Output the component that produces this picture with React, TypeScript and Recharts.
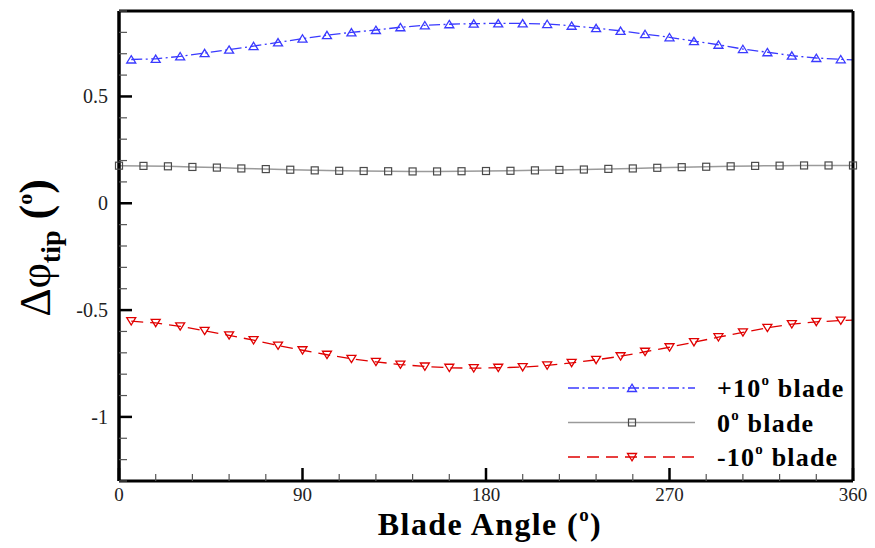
import React from "react";
import { LineChart, Line, XAxis, YAxis } from "recharts";

// blade angle stations (deg)
const zeroAngles = [
  0, 12, 24, 36, 48, 60, 72, 84, 96, 108, 120, 132, 144, 156, 168, 180,
  192, 204, 216, 228, 240, 252, 264, 276, 288, 300, 312, 324, 336, 348, 360,
];
const offsetAngles = [
  6, 18, 30, 42, 54, 66, 78, 90, 102, 114, 126, 138, 150, 162, 174, 186,
  198, 210, 222, 234, 246, 258, 270, 282, 294, 306, 318, 330, 342, 354, 360,
];

// delta phi tip (deg)
const plus10Values = [
  0.673, 0.676, 0.688, 0.703, 0.719, 0.736, 0.753, 0.771, 0.787, 0.8, 0.811,
  0.824, 0.833, 0.838, 0.841, 0.842, 0.842, 0.839, 0.831, 0.82, 0.807, 0.792,
  0.777, 0.759, 0.742, 0.722, 0.707, 0.691, 0.68, 0.674, 0.671,
];
const zeroValues = [
  0.176, 0.175, 0.173, 0.17, 0.167, 0.163, 0.16, 0.157, 0.154, 0.152, 0.151,
  0.15, 0.149, 0.149, 0.15, 0.151, 0.152, 0.154, 0.156, 0.158, 0.161, 0.163,
  0.166, 0.169, 0.171, 0.173, 0.175, 0.176, 0.177, 0.177, 0.177,
];
const minus10Values = [
  -0.552, -0.56, -0.576, -0.597, -0.618, -0.641, -0.666, -0.688, -0.709,
  -0.728, -0.742, -0.755, -0.764, -0.77, -0.772, -0.77, -0.767, -0.759,
  -0.747, -0.733, -0.716, -0.695, -0.674, -0.65, -0.627, -0.604, -0.583,
  -0.566, -0.555, -0.549, -0.547,
];

const xTicks = [
  0, 18, 36, 54, 72, 90, 108, 126, 144, 162, 180, 198, 216, 234, 252, 270,
  288, 306, 324, 342, 360,
];
const xLabels = [0, 90, 180, 270, 360];
const yTicks = [
  -1.3, -1.2, -1.1, -1, -0.9, -0.8, -0.7, -0.6, -0.5, -0.4, -0.3, -0.2, -0.1,
  0, 0.1, 0.2, 0.3, 0.4, 0.5, 0.6, 0.7, 0.8, 0.9,
];
const yLabels = [-1, -0.5, 0, 0.5];

const legendNames = ["+10", "0", "-10"];

const FONT = "'Liberation Serif', 'Times New Roman', serif";

const toPoints = (angles: number[], values: number[]) =>
  angles.map((a, i) => ({ angle: a, value: values[i] }));

const plus10Data = toPoints(offsetAngles, plus10Values);
const zeroData = toPoints(zeroAngles, zeroValues);
const minus10Data = toPoints(offsetAngles, minus10Values);

const BLUE = "#3a3aff";
const GRAY_LINE = "#9a9a9a";
const GRAY_MARK = "#4a4a4a";
const RED = "#e00000";

const marker = (shape: string, color: string, cx: number, cy: number) => {
  if (shape === "up") {
    return (
      <path
        d={`M${cx},${cy - 3.8}L${cx + 4.5},${cy + 3.5}L${cx - 4.5},${cy + 3.5}Z`}
        fill="none"
        stroke={color}
        strokeWidth={1.3}
      />
    );
  }
  if (shape === "down") {
    return (
      <path
        d={`M${cx},${cy + 3.8}L${cx + 4.5},${cy - 3.5}L${cx - 4.5},${cy - 3.5}Z`}
        fill="none"
        stroke={color}
        strokeWidth={1.3}
      />
    );
  }
  return (
    <rect
      x={cx - 3.5}
      y={cy - 3.5}
      width={7}
      height={7}
      fill="none"
      stroke={color}
      strokeWidth={1.2}
    />
  );
};

const makeDot = (shape: string, color: string) => (props: any) => {
  const { cx, cy, payload, index } = props;
  const key = `${shape}-${index}`;
  // the offset series end on 360 without a symbol
  if (shape !== "square" && payload.angle === 360) return <g key={key} />;
  return <g key={key}>{marker(shape, color, cx, cy)}</g>;
};

const XTick = (props: any) => {
  const { x, y, payload } = props;
  const v = payload.value;
  const major = xLabels.includes(v);
  return (
    <g>
      <line
        x1={x}
        x2={x}
        y1={y}
        y2={y - (major ? 13 : 7)}
        stroke={major ? "#000" : "#555"}
        strokeWidth={major ? 2.5 : 1.2}
      />
      {major && (
        <text
          x={x}
          y={y + 20}
          textAnchor="middle"
          fontFamily={FONT}
          fontSize={19}
          fill="#222"
        >
          {v}
        </text>
      )}
    </g>
  );
};

const YTick = (props: any) => {
  const { x, y, payload } = props;
  const v = payload.value;
  const major = yLabels.some((l) => Math.abs(l - v) < 1e-6);
  return (
    <g>
      <line
        x1={x}
        x2={x + (major ? 13 : 8)}
        y1={y}
        y2={y}
        stroke={major ? "#000" : "#555"}
        strokeWidth={major ? 2.5 : 1.2}
      />
      {major && (
        <text
          x={x - 11}
          y={y}
          dy="0.35em"
          textAnchor="end"
          fontFamily={FONT}
          fontSize={20}
          fill="#222"
        >
          {String(v)}
        </text>
      )}
    </g>
  );
};

const legendStyles = [
  { color: BLUE, lineColor: BLUE, dash: "11 3.5 2 3.5", shape: "up" },
  { color: GRAY_MARK, lineColor: GRAY_LINE, dash: undefined, shape: "square" },
  { color: RED, lineColor: RED, dash: "12 7", shape: "down" },
];

const Overlay = () => (
  <svg
    width={875}
    height={548}
    style={{ position: "absolute", left: 0, top: 0, pointerEvents: "none" }}
  >
    {legendNames.map((name, i) => {
      const s = legendStyles[i];
      const y = 388 + i * 34.5;
      return (
        <g key={name}>
          <line
            x1={568}
            x2={695}
            y1={y}
            y2={y}
            stroke={s.lineColor}
            strokeWidth={1.3}
            strokeDasharray={s.dash}
          />
          {marker(s.shape, s.color, 632, y)}
          <text
            x={717}
            y={y + 9}
            fontFamily={FONT}
            fontWeight="bold"
            fontSize={26}
            letterSpacing={1.2}
            fill="#000"
          >
            {name}
            <tspan fontSize={15} dy={-12}>
              o
            </tspan>
            <tspan dy={12}> blade</tspan>
          </text>
        </g>
      );
    })}
    <text
      x={490}
      y={535}
      textAnchor="middle"
      fontFamily={FONT}
      fontWeight="bold"
      fontSize={32}
      letterSpacing={1.4}
      fill="#000"
    >
      Blade Angle (
      <tspan fontSize={19} dy={-14}>
        o
      </tspan>
      <tspan dy={14}>)</tspan>
    </text>
    <text
      transform="translate(50,248) rotate(-90)"
      textAnchor="middle"
      fontFamily={FONT}
      fontSize={44}
      fill="#000"
    >
      Δφ
      <tspan fontSize={28} fontWeight="bold" dy={10}>
        tip
      </tspan>
      <tspan dy={-10} fontWeight="bold"> (</tspan>
      <tspan fontSize={22} fontWeight="bold" dy={-18}>
        o
      </tspan>
      <tspan dy={18} fontWeight="bold">)</tspan>
    </text>
  </svg>
);

export default function App() {
  return (
    <div
      style={{
        position: "absolute",
        left: 0,
        top: 0,
        width: 875,
        height: 548,
        background: "#fff",
      }}
    >
      <LineChart
        width={875}
        height={548}
        margin={{ top: 10, right: 21, bottom: 66, left: 118 }}
      >
        <XAxis
          dataKey="angle"
          type="number"
          domain={[0, 360]}
          ticks={xTicks}
          interval={0}
          height={1}
          tickSize={0}
          tickMargin={0}
          tickLine={false}
          tick={XTick}
          axisLine={{ stroke: "#000", strokeWidth: 3 }}
          allowDuplicatedCategory={false}
        />
        <XAxis
          xAxisId="top"
          orientation="top"
          type="number"
          domain={[0, 360]}
          height={1}
          tick={false}
          tickLine={false}
          axisLine={{ stroke: "#000", strokeWidth: 3 }}
        />
        <YAxis
          type="number"
          domain={[-1.3, 0.9]}
          ticks={yTicks}
          interval={0}
          width={1}
          tickSize={0}
          tickMargin={0}
          tickLine={false}
          tick={YTick}
          allowDataOverflow
          axisLine={{ stroke: "#000", strokeWidth: 3.5 }}
        />
        <YAxis
          yAxisId="right"
          orientation="right"
          type="number"
          domain={[-1.3, 0.9]}
          width={1}
          tick={false}
          tickLine={false}
          axisLine={{ stroke: "#000", strokeWidth: 3 }}
        />
        <Line
          data={zeroData}
          dataKey="value"
          name="0 blade"
          type="linear"
          stroke={GRAY_LINE}
          strokeWidth={1.5}
          dot={makeDot("square", GRAY_MARK)}
          isAnimationActive={false}
        />
        <Line
          data={plus10Data}
          dataKey="value"
          name="+10 blade"
          type="linear"
          stroke={BLUE}
          strokeWidth={1.3}
          strokeDasharray="11 3.5 2 3.5"
          dot={makeDot("up", BLUE)}
          isAnimationActive={false}
        />
        <Line
          data={minus10Data}
          dataKey="value"
          name="-10 blade"
          type="linear"
          stroke={RED}
          strokeWidth={1.3}
          strokeDasharray="12 7"
          dot={makeDot("down", RED)}
          isAnimationActive={false}
        />
      </LineChart>
      <Overlay />
    </div>
  );
}
